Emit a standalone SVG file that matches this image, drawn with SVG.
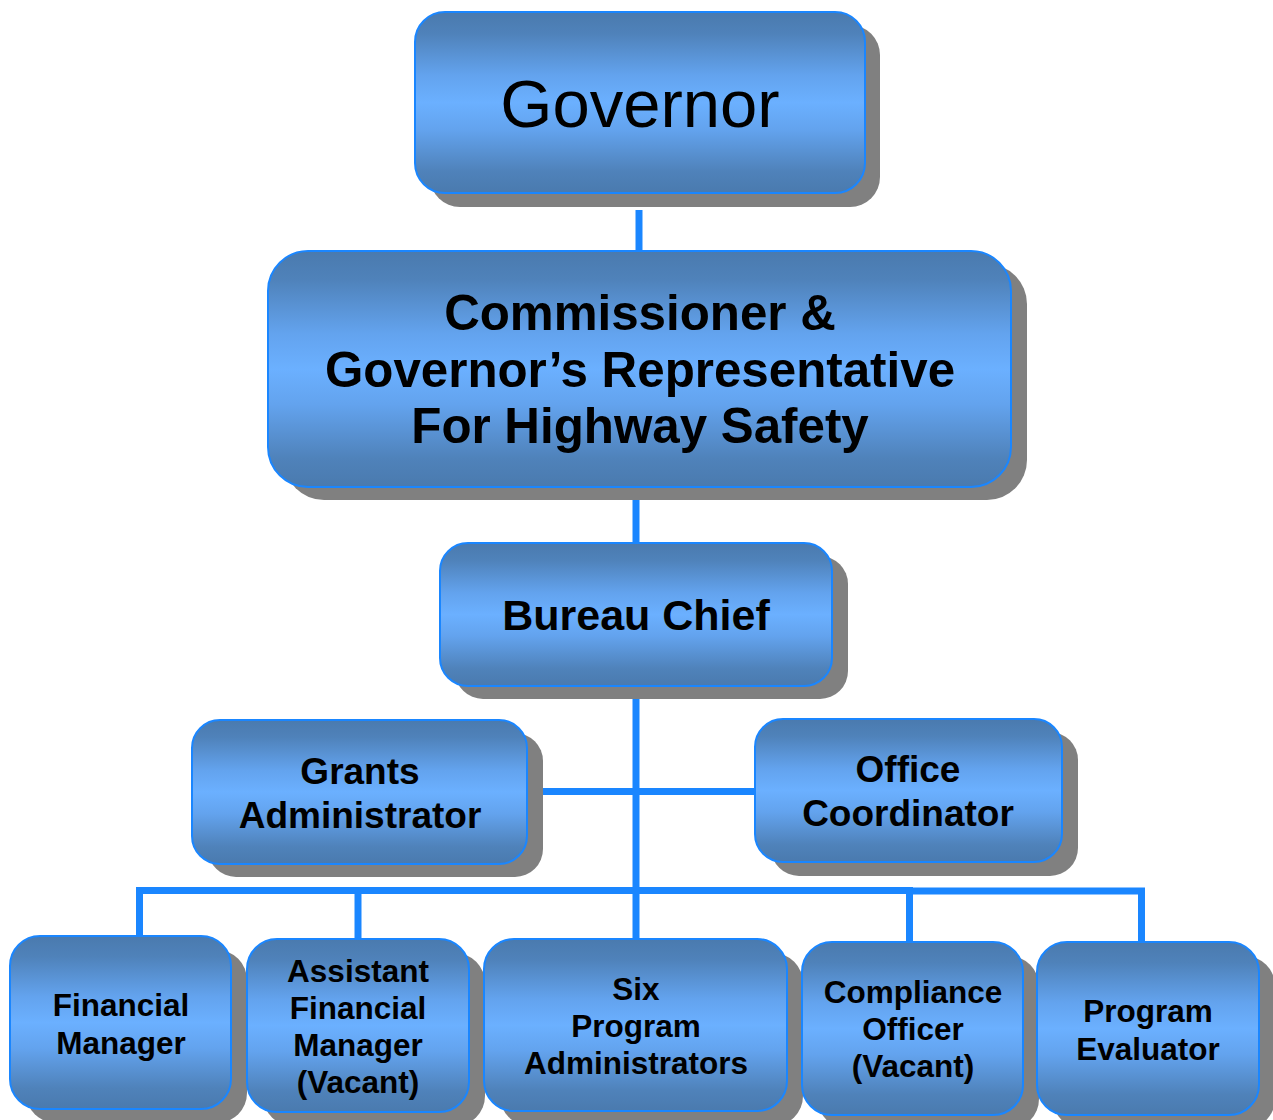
<svg xmlns="http://www.w3.org/2000/svg" width="1273" height="1120" viewBox="0 0 1273 1120">
<defs>
<linearGradient id="g" x1="0" y1="0" x2="0" y2="1">
<stop offset="0" stop-color="#4a7aae"/>
<stop offset="0.12" stop-color="#4f82ba"/>
<stop offset="0.35" stop-color="#63a3ee"/>
<stop offset="0.5" stop-color="#6bb0ff"/>
<stop offset="0.65" stop-color="#63a3ee"/>
<stop offset="0.88" stop-color="#4f82ba"/>
<stop offset="1" stop-color="#4a7aae"/>
</linearGradient>
</defs>
<style>
.sh{fill:#808080}
.bx{fill:url(#g);stroke:#1a86ff;stroke-width:2}
.t{font-family:"Liberation Sans",Arial,sans-serif;font-weight:bold;fill:#000;text-anchor:middle}
.c{stroke:#1a86ff;stroke-width:7;fill:none}
</style>
<rect width="1273" height="1120" fill="#fff"/>
<g id="connectors">
<line class="c" x1="639" y1="210" x2="639" y2="252"/>
<line class="c" x1="636" y1="500" x2="636" y2="544"/>
<line class="c" x1="636" y1="699" x2="636" y2="940"/>
<line class="c" x1="543" y1="791.5" x2="756" y2="791.5"/>
<polyline class="c" points="139.5,937 139.5,890.5 909.5,890.5 909.5,943"/>
<polyline class="c" points="906,891 1141.5,891 1141.5,943"/>
<line class="c" x1="358" y1="890" x2="358" y2="940"/>
</g>
<g id="governor">
<rect class="sh" x="430" y="25" width="450" height="182" rx="30"/>
<rect class="bx" x="415" y="12" width="450" height="181" rx="30"/>
<text class="t" x="640" y="127" font-size="67" style="font-weight:normal">Governor</text>
</g>
<g id="commissioner">
<rect class="sh" x="284" y="264" width="743" height="236" rx="40"/>
<rect class="bx" x="268" y="251" width="743" height="236" rx="40"/>
<text class="t" font-size="49.3"><tspan x="640" y="330">Commissioner &amp;</tspan><tspan x="640" y="387">Governor’s Representative</tspan><tspan x="640" y="443">For Highway Safety</tspan></text>
</g>
<g id="bureau-chief">
<rect class="sh" x="455" y="556" width="393" height="143" rx="28"/>
<rect class="bx" x="440" y="543" width="392" height="143" rx="28"/>
<text class="t" x="636" y="630" font-size="43">Bureau Chief</text>
</g>
<g id="grants-administrator">
<rect class="sh" x="208" y="733" width="335" height="144" rx="28"/>
<rect class="bx" x="192" y="720" width="335" height="144" rx="28"/>
<text class="t" font-size="37"><tspan x="360" y="784">Grants</tspan><tspan x="360" y="828">Administrator</tspan></text>
</g>
<g id="office-coordinator">
<rect class="sh" x="771" y="732" width="307" height="144" rx="28"/>
<rect class="bx" x="755" y="719" width="307" height="143" rx="28"/>
<text class="t" font-size="37"><tspan x="908" y="782">Office</tspan><tspan x="908" y="826">Coordinator</tspan></text>
</g>
<g id="financial-manager">
<rect class="sh" x="26" y="950" width="221" height="173" rx="30"/>
<rect class="bx" x="10" y="936" width="221" height="173" rx="30"/>
<text class="t" font-size="31.5"><tspan x="121" y="1016">Financial</tspan><tspan x="121" y="1054">Manager</tspan></text>
</g>
<g id="assistant-financial-manager">
<rect class="sh" x="263" y="953" width="222" height="173" rx="30"/>
<rect class="bx" x="247" y="939" width="222" height="173" rx="30"/>
<text class="t" font-size="31.5"><tspan x="358" y="982">Assistant</tspan><tspan x="358" y="1019">Financial</tspan><tspan x="358" y="1056">Manager</tspan><tspan x="358" y="1093">(Vacant)</tspan></text>
</g>
<g id="six-program-administrators">
<rect class="sh" x="500" y="953" width="303" height="173" rx="30"/>
<rect class="bx" x="484" y="939" width="303" height="172" rx="30"/>
<text class="t" font-size="31.5"><tspan x="636" y="1000">Six</tspan><tspan x="636" y="1037">Program</tspan><tspan x="636" y="1074">Administrators</tspan></text>
</g>
<g id="compliance-officer">
<rect class="sh" x="818" y="956" width="221" height="173" rx="30"/>
<rect class="bx" x="802" y="942" width="221" height="173" rx="30"/>
<text class="t" font-size="31.5"><tspan x="913" y="1003">Compliance</tspan><tspan x="913" y="1040">Officer</tspan><tspan x="913" y="1077">(Vacant)</tspan></text>
</g>
<g id="program-evaluator">
<rect class="sh" x="1053" y="956" width="222" height="173" rx="30"/>
<rect class="bx" x="1037" y="942" width="222" height="173" rx="30"/>
<text class="t" font-size="31.5"><tspan x="1148" y="1022">Program</tspan><tspan x="1148" y="1060">Evaluator</tspan></text>
</g>
</svg>
